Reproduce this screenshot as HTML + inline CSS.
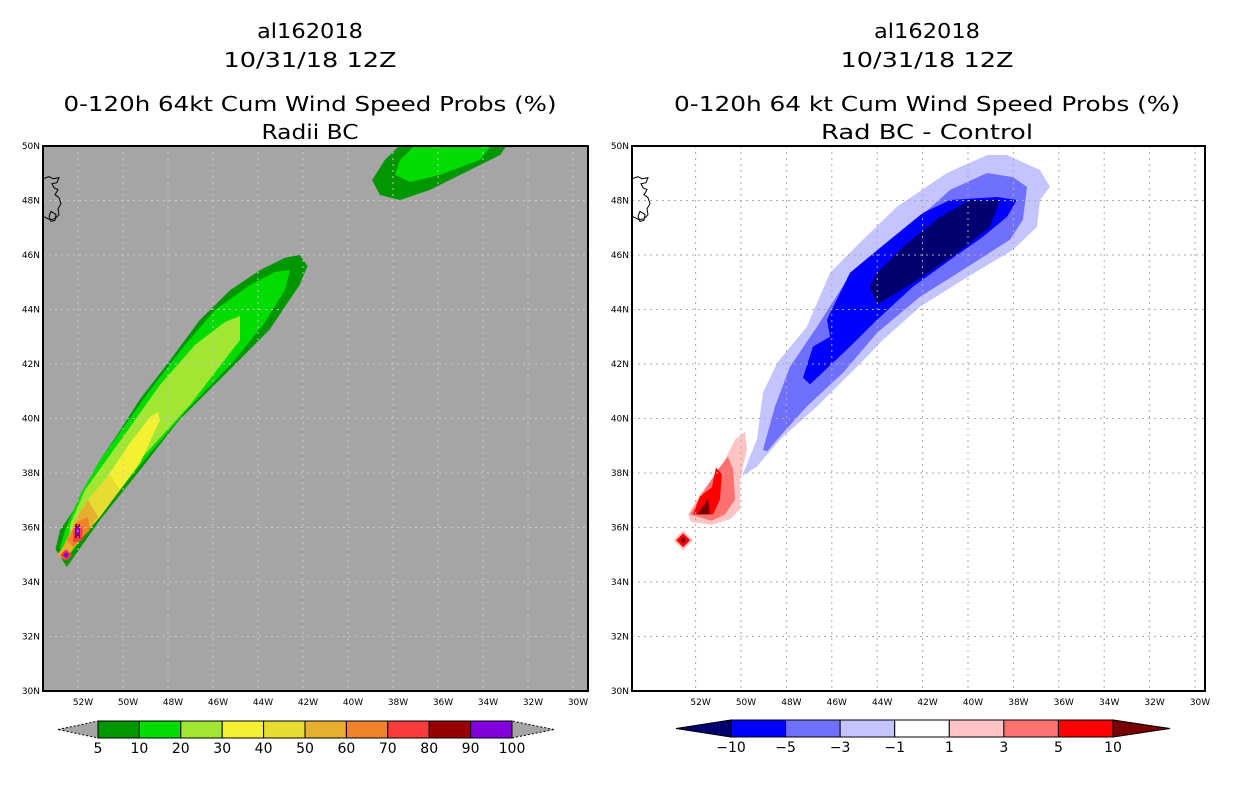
<!DOCTYPE html>
<html><head><meta charset="utf-8"><style>
html,body{margin:0;padding:0;background:#fff;}
body{width:1236px;height:800px;overflow:hidden;font-family:"DejaVu Sans","Liberation Sans",sans-serif;}
svg text{font-family:"DejaVu Sans","Liberation Sans",sans-serif;}
</style></head><body>
<svg id="root" width="1236" height="800" xmlns="http://www.w3.org/2000/svg"></svg>
<script>
// ---- data ----
const lonTicks = [-52,-50,-48,-46,-44,-42,-40,-38,-36,-34,-32,-30];
const latTicks = [30,32,34,36,38,40,42,44,46,48,50];
const leftLevels = ['5','10','20','30','40','50','60','70','80','90','100'];
const leftColors = ['#009600','#00dc00','#a0e632','#f5f032','#e6dc32','#e6af2d','#f08228','#fa3c3c','#960000','#8200dc'];
const rightLevels = ['-10','-5','-3','-1','1','3','5','10'];
const rightColors = ['#000070','#0000ff','#7070ff','#c4c4ff','#ffffff','#ffc4c4','#ff7070','#ff0000','#780000'];
// contour polygons (lon, lat)
const leftL0 = [[-53.0,35.2],[-52.5,34.55],[-51.0,36.3],[-49.25,38.1],[-47.5,39.95],[-45.25,41.8],[-43.5,43.25],[-42.15,44.9],[-41.8,45.6],[-42.15,46.0],[-42.8,45.9],[-43.9,45.45],[-45.25,44.7],[-46.6,43.6],[-47.9,42.15],[-49.25,40.7],[-50.1,39.6],[-51.0,38.5],[-51.9,37.0],[-52.8,35.9]];
const leftL0b = [[-38.93,48.75],[-38.58,48.2],[-37.69,48.02],[-36.36,48.39],[-34.58,49.12],[-33.24,49.67],[-32.8,50.2],[-37.47,50.2],[-38.36,49.49]];
const leftL1 = [[-52.8,35.25],[-52.49,34.88],[-51.02,36.46],[-49.24,38.29],[-47.24,40.24],[-45.02,42.15],[-43.69,43.54],[-42.8,44.72],[-42.58,45.45],[-43.24,45.38],[-44.36,44.9],[-45.91,43.98],[-47.24,42.7],[-48.8,41.05],[-49.91,39.76],[-51.02,38.48],[-51.91,37.19],[-52.58,35.91]];
const leftL1b = [[-37.91,48.94],[-37.24,48.68],[-35.91,48.94],[-34.13,49.49],[-33.47,50.2],[-36.8,50.2],[-37.69,49.49]];
const leftL2 = [[-52.36,35.25],[-51.02,36.64],[-49.24,38.48],[-47.02,40.5],[-44.8,42.88],[-44.8,43.76],[-45.47,43.54],[-46.8,42.7],[-48.36,41.23],[-49.47,39.94],[-50.58,38.66],[-51.69,37.38],[-52.36,36.09]];
const leftL3 = [[-52.49,35.06],[-51.47,36.02],[-50.13,37.38],[-49.24,38.37],[-48.36,39.94],[-48.44,40.24],[-48.8,40.06],[-49.69,39.1],[-50.71,37.85],[-51.78,36.75],[-52.49,35.54]];
const leftL4 = [[-52.58,34.92],[-51.02,36.39],[-50.13,37.38],[-50.58,37.93],[-51.47,37.12],[-52.36,35.91]];
const leftL5 = [[-52.58,34.81],[-51.91,35.54],[-51.11,36.39],[-51.56,37.01],[-52.04,36.39],[-52.67,35.28],[-52.93,34.99]];
const leftL6 = [[-52.22,35.28],[-51.47,35.91],[-51.56,36.39],[-52.04,36.2],[-52.49,35.54]];
const leftL7 = [[-52.22,35.43],[-51.78,35.54],[-51.82,36.02],[-52.13,36.09],[-52.22,35.8]];
const leftL8 = [[-52.13,35.61],[-51.91,35.61],[-51.91,36.13],[-52.13,36.13]];
const leftL9 = [[-52.09,35.72],[-51.96,35.72],[-51.96,36.02],[-52.09,36.02]];
const leftSpot = [-52.53,34.99];
const rightNeg1 = [[-49.96,37.88],[-49.3,39.23],[-49.03,40.95],[-48.4,42.05],[-47.1,43.37],[-46.08,45.35],[-44.63,46.56],[-43.13,47.77],[-40.93,49.01],[-39.16,49.67],[-38.28,49.67],[-36.83,49.12],[-36.39,48.5],[-36.83,48.02],[-36.96,47.03],[-38.02,46.19],[-40.22,45.09],[-42.11,44.1],[-43.74,42.89],[-44.89,41.9],[-46.65,40.44],[-48.28,39.23],[-49.3,38.24]];
const rightNeg3 = [[-49.03,38.86],[-48.5,40.44],[-47.84,41.9],[-46.65,43.37],[-45.33,45.09],[-43.74,46.3],[-42.11,47.4],[-40.79,48.39],[-39.16,49.01],[-38.02,48.86],[-37.4,48.5],[-37.58,47.29],[-38.15,46.56],[-40.22,45.46],[-42.11,44.47],[-44.0,43.15],[-45.5,41.68],[-47.1,40.44],[-48.41,39.23],[-48.85,38.79]];
const rightNeg5 = [[-47.27,41.5],[-46.83,42.64],[-46.08,43.0],[-46.21,43.63],[-45.2,45.35],[-43.44,46.56],[-41.98,47.55],[-40.79,48.02],[-38.72,48.13],[-37.84,48.02],[-38.28,47.4],[-39.34,46.67],[-40.79,45.82],[-42.42,44.84],[-44.0,43.63],[-45.2,42.64],[-46.96,41.25]];
const rightNeg10 = [[-44.32,44.84],[-44.0,45.35],[-42.86,46.3],[-41.23,47.4],[-39.91,48.02],[-38.59,48.02],[-39.03,47.03],[-40.48,46.08],[-42.42,44.98],[-44.0,44.18]];
const rightPos1 = [[-52.33,36.48],[-51.81,37.21],[-50.93,38.13],[-50.26,39.23],[-49.82,39.52],[-49.74,38.86],[-50.04,37.77],[-50.04,36.67],[-50.48,36.3],[-51.28,36.1],[-52.2,36.2]];
const rightPos3 = [[-52.25,36.48],[-51.59,37.4],[-51.01,38.13],[-50.57,38.61],[-50.35,38.13],[-50.26,37.03],[-50.7,36.48],[-51.3,36.25]];
const rightPos5 = [[-52.11,36.48],[-51.81,37.14],[-51.28,37.47],[-51.1,38.2],[-50.84,37.95],[-50.93,37.03],[-51.23,36.48]];
const rightPos10 = [[-51.94,36.48],[-51.45,37.03],[-51.37,36.48]];
const rightSpot = [-52.55,35.53];

const NS='http://www.w3.org/2000/svg';
const root=document.getElementById('root');
function el(tag,attrs,parent){const e=document.createElementNS(NS,tag);for(const k in attrs)e.setAttribute(k,attrs[k]);(parent||root).appendChild(e);return e;}
function txt(s,x,y,size,anchor,parent,len){const a={x:x,y:y,'font-size':size,'text-anchor':anchor||'middle',fill:'#000'};if(len){a.textLength=len;a.lengthAdjust='spacingAndGlyphs';}const t=el('text',a,parent);t.textContent=s;return t;}

function panel(id,box,x50,pxDeg,bg,gridColor){
  const g=el('g',{});
  
  
  const sx=lon=>x50+(lon+50)*pxDeg;
  const sy=lat=>box.y+(50-lat)*(box.h/20);
  el('rect',{x:box.x,y:box.y,width:box.w,height:box.h,fill:bg},g);
  const cp=el('clipPath',{id:'clip-'+id},g);
  el('rect',{x:box.x,y:box.y,width:box.w,height:box.h},cp);
  const layers=el('g',{'clip-path':'url(#clip-'+id+')'},g);
  return {g,sx,sy,layers,box,gridColor};
}
function poly(P,pts,fill,name){
  const p=el('polygon',{points:pts.map(q=>P.sx(q[0]).toFixed(1)+','+P.sy(q[1]).toFixed(1)).join(' '),fill:fill},P.layers);
  
  
}
function diamond(P,c,r,fill,name){
  const x=P.sx(c[0]),y=P.sy(c[1]);
  const p=el('polygon',{points:`${x},${y-r} ${x+r},${y} ${x},${y+r} ${x-r},${y}`,fill:fill},P.layers);
  
  
}
function axes(P){
  const b=P.box;
  const gg=el('g',{stroke:P.gridColor,'stroke-width':1,'stroke-dasharray':'2,4'},P.layers);
  lonTicks.forEach(l=>{const x=P.sx(l);el('line',{x1:x,y1:b.y,x2:x,y2:b.y+b.h},gg);});
  latTicks.forEach(l=>{const y=P.sy(l);el('line',{x1:b.x,y1:y,x2:b.x+b.w,y2:y},gg);});
  const c=el('path',{d:`M${b.x},${P.sy(48.8)} l6,-2 l4,2 l6,-1 l-2,5 l-5,1 l2,4 l4,2 l-3,5 l4,3 l2,6 l-3,5 l1,6 l-4,4 l-5,1 l-6,-3 M${b.x+8},${P.sy(47.6)} l5,3 l-1,6 l-4,1 l-2,-5 z`,fill:'none',stroke:'#000','stroke-width':1},P.layers);
  
  
  const fr=el('rect',{x:b.x,y:b.y,width:b.w,height:b.h,fill:'none',stroke:'#000','stroke-width':2},P.g);
  
  
  lonTicks.forEach(l=>{const t=txt(Math.abs(l)+'W',P.sx(l)+5,b.y+b.h+14,9,'middle',P.g);
    
    });
  latTicks.forEach(l=>{const t=txt(l+'N',b.x-3,P.sy(l)+3,9,'end',P.g);
    
    });
}
function colorbar(x0,x1,xl,xr,y,h,colors,labels,leftTri,rightTri,name){
  const g=el('g',{});
  
  
  const inner=colors.slice(leftTri?1:0,rightTri?colors.length-1:colors.length);
  const w=(x1-x0)/inner.length;
  el('polygon',{points:`${xl},${y+h/2} ${x0},${y} ${x0},${y+h}`,fill:leftTri||'#a5a5a5',stroke:'#000','stroke-width':1,'stroke-dasharray':leftTri?'':'2,2'},g);
  el('polygon',{points:`${xr},${y+h/2} ${x1},${y} ${x1},${y+h}`,fill:rightTri||'#a5a5a5',stroke:'#000','stroke-width':1,'stroke-dasharray':rightTri?'':'2,2'},g);
  inner.forEach((c,i)=>{const r=el('rect',{x:x0+i*w,y:y,width:w,height:h,fill:c,stroke:'#000','stroke-width':1},g);
    
    });
  labels.forEach((s,i)=>{const t=txt(s.replace('-','\u2212'),x0+i*w,y+h+15,14,'middle',g);
    
    });
}
function titles(cx,l3,l4,w3,w4,name){
  const g=el('g',{});
  
  
  txt('al162018',cx,38,20,'middle',g,106);
  txt('10/31/18 12Z',cx,67,20,'middle',g,173);
  txt(l3,cx,111,20,'middle',g,w3);
  txt(l4,cx,139,20,'middle',g,w4);
}

// left panel
const L=panel('left',{x:43,y:146,w:545,h:545},123,22.5,'#a5a5a5','#c8c8c8');
poly(L,leftL0,leftColors[0],'contour-5');poly(L,leftL0b,leftColors[0],'contour-5-north');
poly(L,leftL1,leftColors[1],'contour-10');poly(L,leftL1b,leftColors[1],'contour-10-north');
poly(L,leftL2,leftColors[2],'contour-20');poly(L,leftL3,leftColors[3],'contour-30');
poly(L,leftL4,leftColors[4],'contour-40');poly(L,leftL5,leftColors[5],'contour-50');
poly(L,leftL6,leftColors[6],'contour-60');poly(L,leftL7,leftColors[7],'contour-70');
poly(L,leftL8,leftColors[8],'contour-80');poly(L,leftL9,leftColors[9],'contour-90');
diamond(L,leftSpot,6,leftColors[7],'spot-70');diamond(L,leftSpot,3,leftColors[9],'spot-90');
axes(L);
titles(310,'0-120h 64kt Cum Wind Speed Probs (%)','Radii BC',493,97,'left-title');
colorbar(98,512,58,554,721,17,leftColors,leftLevels,null,null,'left-colorbar');

// right panel
const R=panel('right',{x:632,y:146,w:573,h:545},741,22.7,'#ffffff','#aaaaaa');
poly(R,rightNeg1,rightColors[3],'contour-minus-1');poly(R,rightNeg3,rightColors[2],'contour-minus-3');
poly(R,rightNeg5,rightColors[1],'contour-minus-5');poly(R,rightNeg10,rightColors[0],'contour-minus-10');
poly(R,rightPos1,rightColors[5],'contour-plus-1');poly(R,rightPos3,rightColors[6],'contour-plus-3');
poly(R,rightPos5,rightColors[7],'contour-plus-5');poly(R,rightPos10,rightColors[8],'contour-plus-10');
diamond(R,rightSpot,10,rightColors[5],'spot-plus-1');diamond(R,rightSpot,7,rightColors[7],'spot-plus-5');diamond(R,rightSpot,3,rightColors[8],'spot-plus-10');
axes(R);
titles(927,'0-120h 64 kt Cum Wind Speed Probs (%)','Rad BC - Control',506,212,'right-title');
colorbar(731,1113,676,1170,720,17,rightColors,rightLevels,rightColors[0],rightColors[8],'right-colorbar');
</script>
</body></html>
